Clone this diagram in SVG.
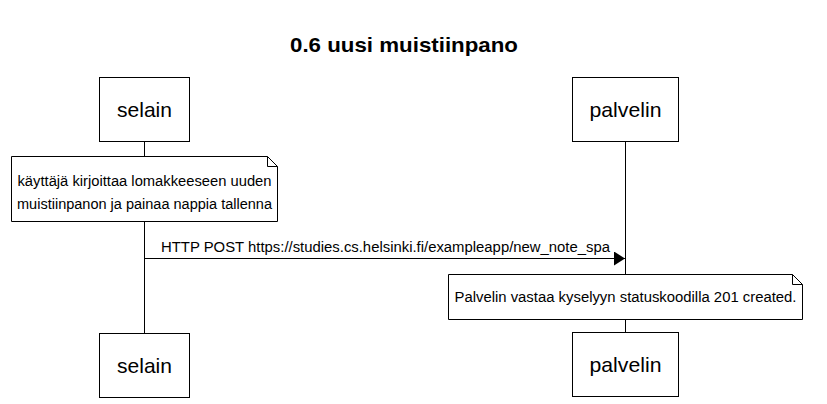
<svg xmlns="http://www.w3.org/2000/svg" width="827" height="404" viewBox="0 0 827 404">
<style>
.box{fill:#fff;stroke:#000;stroke-width:1}
.life{stroke:#000;stroke-width:1}
.t{font-family:"Liberation Sans",Arial,sans-serif;fill:#000}
.name{font-size:21px;text-anchor:middle}
.small{font-size:14px}
.title{font-size:21px;font-weight:bold;text-anchor:middle}
</style>
<defs>
<marker id="ah" markerWidth="12" markerHeight="14" refX="11" refY="7" orient="auto" markerUnits="userSpaceOnUse">
<path d="M0,0 L11,7 L0,14 Z" fill="#000"/>
</marker>
</defs>
<rect width="827" height="404" fill="#fff"/>
<text class="t title" x="404" y="52" textLength="228" lengthAdjust="spacingAndGlyphs">0.6 uusi muistiinpano</text>
<g id="lifelines">
<line class="life" x1="144.5" y1="142" x2="144.5" y2="333"/>
<line class="life" x1="625.5" y1="142" x2="625.5" y2="332"/>
</g>
<g id="connectors">
<line x1="144.5" y1="258.5" x2="625" y2="258.5" stroke="#000" stroke-width="1" marker-end="url(#ah)"/>
<text class="t small" x="161" y="252" textLength="449" lengthAdjust="spacingAndGlyphs">HTTP POST https://studies.cs.helsinki.fi/exampleapp/new_note_spa</text>
</g>
<g id="selain-top">
<rect class="box" x="99.5" y="77.5" width="90" height="64"/>
<text class="t name" x="144.5" y="117" textLength="55" lengthAdjust="spacingAndGlyphs">selain</text>
</g>
<g id="palvelin-top">
<rect class="box" x="572.5" y="77.5" width="106" height="64"/>
<text class="t name" x="625.5" y="117" textLength="72" lengthAdjust="spacingAndGlyphs">palvelin</text>
</g>
<g id="note1">
<path class="box" d="M11.5,156.5 H267.5 L277.5,166.5 V221.5 H11.5 Z"/>
<path d="M267.5,156.5 V166.5 H277.5" fill="none" stroke="#000"/>
<text class="t small" x="144.5" y="186" text-anchor="middle" textLength="254" lengthAdjust="spacingAndGlyphs">käyttäjä kirjoittaa lomakkeeseen uuden</text>
<text class="t small" x="144.5" y="209" text-anchor="middle" textLength="255" lengthAdjust="spacingAndGlyphs">muistiinpanon ja painaa nappia tallenna</text>
</g>
<g id="note2">
<path class="box" d="M448.5,274.5 H792.5 L802.5,284.5 V319.5 H448.5 Z"/>
<path d="M792.5,274.5 V284.5 H802.5" fill="none" stroke="#000"/>
<text class="t small" x="625.5" y="302" text-anchor="middle" textLength="342" lengthAdjust="spacingAndGlyphs">Palvelin vastaa kyselyyn statuskoodilla 201 created.</text>
</g>
<g id="selain-bottom">
<rect class="box" x="99.5" y="333.5" width="90" height="64"/>
<text class="t name" x="144.5" y="373" textLength="55" lengthAdjust="spacingAndGlyphs">selain</text>
</g>
<g id="palvelin-bottom">
<rect class="box" x="572.5" y="332.5" width="106" height="64"/>
<text class="t name" x="625.5" y="372" textLength="72" lengthAdjust="spacingAndGlyphs">palvelin</text>
</g>
</svg>
